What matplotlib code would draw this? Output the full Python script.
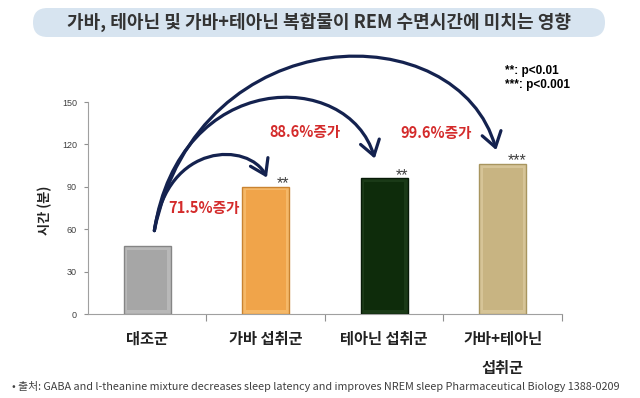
import numpy as np
import matplotlib.pyplot as plt
from matplotlib.patches import FancyArrowPatch, FancyBboxPatch
from matplotlib.path import Path

# 한글 폰트
plt.rcParams['font.family'] = ['Noto Sans CJK KR', 'DejaVu Sans']

# 데이터
groups = ['대조군', '가바 섭취군', '테아닌 섭취군', '가바+테아닌\n섭취군']
minutes = [48, 90, 96, 106]
increase = ['71.5%증가', '88.6%증가', '99.6%증가']
stars = ['', '**', '**', '***']
yticks = [0, 30, 60, 90, 120, 150]

colors = ['#a6a6a6', '#f0a44a', '#0e2c0b', '#c8b482']
edges = ['#858585', '#c98330', '#071a07', '#a8955f']
bevel = ['#b8b8b8', '#f5b868', '#1a3a17', '#d6c497']
navy = '#14224f'

fig = plt.figure(figsize=(6.4, 3.98), dpi=100)

# 제목 박스 (픽셀 좌표용 배경 축)
bg = fig.add_axes([0, 0, 1, 1], zorder=0)
bg.set_xlim(0, 640)
bg.set_ylim(398, 0)
bg.axis('off')
bg.add_patch(FancyBboxPatch((33, 8), 572, 29, boxstyle='round,pad=0,rounding_size=14.5',
                            facecolor='#d7e4f0', edgecolor='none'))
bg.text(319, 22.5, '가바, 테아닌 및 가바+테아닌 복합물이 REM 수면시간에 미치는 영향',
        ha='center', va='center', fontsize=13, fontweight='bold', color='#333333')

ax = fig.add_axes([0.1375, 0.211, 0.7406, 0.5327], zorder=1)
ax.patch.set_alpha(0)
x = np.arange(len(groups))
# 바깥(베벨) + 안쪽 면
ax.bar(x, minutes, width=0.4, color=bevel, edgecolor=edges, linewidth=1.0, zorder=3)
ax.bar(x, [m - 5 for m in minutes], bottom=2.5, width=0.34, color=colors, linewidth=0, zorder=3)

ax.set_xlim(-0.5, 3.5)
ax.set_ylim(0, 150)
ax.set_yticks(yticks)
ax.set_yticklabels([str(v) for v in yticks], family=['Liberation Sans', 'DejaVu Sans'])
ax.tick_params(axis='y', direction='out', length=3, width=0.8, color='#909090',
               labelsize=6.5, labelcolor='#404040', pad=5)
ax.set_xticks(x)
ax.set_xticklabels(groups, fontsize=11, fontweight='bold', color='#222222', linespacing=2.0)
ax.tick_params(axis='x', which='major', length=0, pad=12)
ax.set_xticks(list(x + 0.5), minor=True)
ax.tick_params(axis='x', which='minor', direction='out', length=5, width=0.8, color='#909090')
for s in ['top', 'right']:
    ax.spines[s].set_visible(False)
for s in ['left', 'bottom']:
    ax.spines[s].set_color('#a0a0a0')
    ax.spines[s].set_linewidth(0.8)

# 유의성 표시
for i, st in enumerate(stars):
    if st:
        ax.text(x[i] + 0.2, minutes[i] - 1, st, ha='right', va='baseline',
                fontsize=11.5, color='#404040', family=['Liberation Sans', 'DejaVu Sans'])

# 곡선 화살표 (대조군 -> 각 군)
start = (0.06, 59)
curves = [
    [(0.17, 122), (0.86, 122), (1.01, 96.5)],
    [(0.27, 174), (1.70, 174), (1.92, 110)],
    [(0.44, 212), (2.63, 212), (2.945, 116)],
]
codes = [Path.MOVETO, Path.CURVE4, Path.CURVE4, Path.CURVE4]
for pts in curves:
    arr = FancyArrowPatch(path=Path([start] + pts, codes),
                          arrowstyle='->,head_length=0.75,head_width=0.5',
                          mutation_scale=14, lw=2.3, color=navy,
                          transform=ax.transData, clip_on=False, zorder=4)
    ax.add_patch(arr)

# 증가율
label_pos = [(0.48, 75), (1.33, 128.5), (2.44, 128)]
for (lx, ly), t in zip(label_pos, increase):
    ax.text(lx, ly, t, ha='center', va='center', fontsize=10.5, fontweight='bold',
            color='#d42b2b', zorder=5)

fig.text(45 / 640, 1 - 210 / 398, '시간 (분)', rotation=90, ha='center', va='center',
         fontsize=9.5, fontweight='bold', color='#222222')

# p-value 범례
fig.text(505 / 640, 1 - 71 / 398, '**: p<0.01', ha='left', va='center', fontsize=8.5,
         fontweight='bold', family=['Liberation Sans', 'DejaVu Sans'])
fig.text(505 / 640, 1 - 85 / 398, '***: p<0.001', ha='left', va='center', fontsize=8.5,
         fontweight='bold', family=['Liberation Sans', 'DejaVu Sans'])

# 출처
fig.text(12 / 640, 1 - 386 / 398,
         '• 출처: GABA and l-theanine mixture decreases sleep latency and improves NREM sleep '
         'Pharmaceutical Biology 1388-0209',
         ha='left', va='center', fontsize=7.8, color='#404040')

fig.savefig('out.png', dpi=100)
